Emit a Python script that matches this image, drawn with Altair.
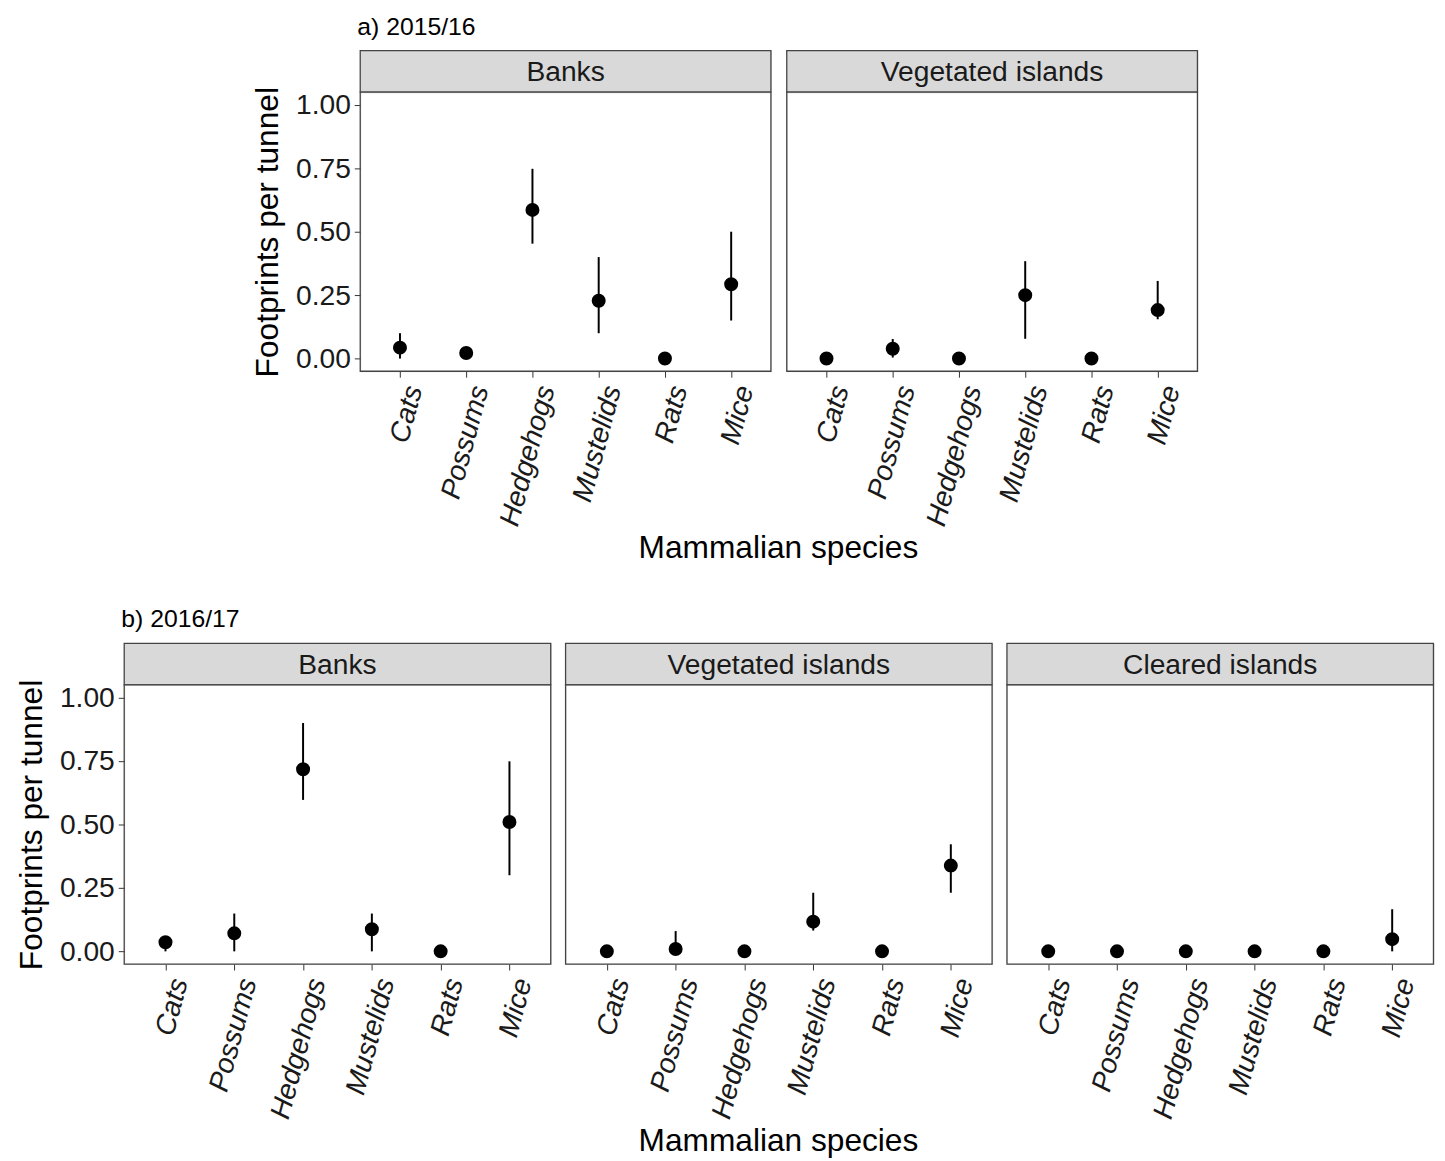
import altair as alt
import pandas as pd

SPECIES = ["Cats", "Possums", "Hedgehogs", "Mustelids", "Rats", "Mice"]

# a) 2015/16
A_BANKS_MEAN = [0.043, 0.022, 0.586, 0.228, 0.0, 0.293]
A_BANKS_LO = [0.0, 0.005, 0.453, 0.10, 0.0, 0.15]
A_BANKS_HI = [0.10, 0.04, 0.748, 0.40, 0.0, 0.50]

A_VEG_MEAN = [0.0, 0.039, 0.0, 0.25, 0.0, 0.191]
A_VEG_LO = [0.0, 0.004, 0.0, 0.078, 0.0, 0.155]
A_VEG_HI = [0.0, 0.077, 0.0, 0.384, 0.0, 0.306]

# b) 2016/17
B_BANKS_MEAN = [0.036, 0.071, 0.718, 0.087, 0.0, 0.51]
B_BANKS_LO = [0.0, 0.0, 0.597, 0.0, 0.0, 0.30]
B_BANKS_HI = [0.05, 0.149, 0.90, 0.149, 0.0, 0.749]

B_VEG_MEAN = [0.0, 0.009, 0.0, 0.117, 0.0, 0.338]
B_VEG_LO = [0.0, 0.0, 0.0, 0.082, 0.0, 0.231]
B_VEG_HI = [0.0, 0.08, 0.0, 0.231, 0.0, 0.422]

B_CLR_MEAN = [0.0, 0.0, 0.0, 0.0, 0.0, 0.048]
B_CLR_LO = [0.0, 0.0, 0.0, 0.0, 0.0, 0.0]
B_CLR_HI = [0.0, 0.0, 0.0, 0.0, 0.0, 0.166]

Y_TICKS = [0.0, 0.25, 0.5, 0.75, 1.0]

FONT = "Liberation Sans"
PLOT_H = 282
STRIP_H = 42
BORDER = "#444444"


def make_df(mean, lo, hi):
    return pd.DataFrame({"species": SPECIES, "mean": mean, "lo": lo, "hi": hi})


def panel(df, label, width, show_y):
    yscale = alt.Scale(domain=[-0.05, 1.05], nice=False, zero=False)
    if show_y:
        yaxis = alt.Axis(
            values=Y_TICKS, format=".2f", grid=False, domain=False,
            labelFont=FONT, labelFontSize=28.5, labelColor="#1a1a1a",
            tickColor="#333333", tickSize=6, labelPadding=4,
            title="Footprints per tunnel", titleFont=FONT, titleFontSize=32,
            titleFontWeight="normal", titleColor="#000000", titlePadding=11,
        )
    else:
        yaxis = None
    xenc = alt.X(
        "species:N", sort=SPECIES,
        scale=alt.Scale(type="point", padding=0.6),
        axis=alt.Axis(
            title=None, labelAngle=285, labelAlign="right", labelBaseline="top",
            labelFontStyle="italic", labelFont=FONT, labelFontSize=28.5,
            labelColor="#1a1a1a", tickColor="#333333", tickSize=6,
            labelPadding=5, domain=False, grid=False,
        ),
    )
    base = alt.Chart(df).encode(x=xenc)
    rules = base.mark_rule(color="black", strokeWidth=2).encode(
        y=alt.Y("lo:Q", scale=yscale, axis=yaxis), y2="hi:Q"
    )
    pts = base.mark_point(filled=True, color="black", opacity=1, size=200).encode(
        y=alt.Y("mean:Q", scale=yscale, axis=yaxis)
    )
    frame = alt.Chart(pd.DataFrame({"f": [0]})).mark_rect(
        fill="transparent", stroke=BORDER, strokeWidth=1.3
    ).encode(x=alt.value(0), x2=alt.value(width), y=alt.value(0), y2=alt.value(PLOT_H))
    plot = alt.layer(rules, pts, frame).properties(width=width, height=PLOT_H)

    sdf = pd.DataFrame({"t": [label]})
    sbase = alt.Chart(sdf)
    srect = sbase.mark_rect(fill="#D9D9D9", stroke=BORDER, strokeWidth=1.3).encode(
        x=alt.value(0), x2=alt.value(width), y=alt.value(0), y2=alt.value(STRIP_H)
    )
    stext = sbase.mark_text(font=FONT, fontSize=28.5, color="#1a1a1a", baseline="middle", align="center").encode(
        text="t:N", x=alt.value(width / 2), y=alt.value(STRIP_H / 2 + 1)
    )
    strip = alt.layer(srect, stext).properties(width=width, height=STRIP_H)
    return alt.vconcat(strip, plot, spacing=0, bounds="flush")


xtitle = dict(
    text="Mammalian species", orient="bottom", anchor="middle", font=FONT,
    fontSize=32, fontWeight="normal", color="#000000", offset=4,
)

row_a = alt.hconcat(
    panel(make_df(A_BANKS_MEAN, A_BANKS_LO, A_BANKS_HI), "Banks", 415, True),
    panel(make_df(A_VEG_MEAN, A_VEG_LO, A_VEG_HI), "Vegetated islands", 415, False),
    spacing=12,
    title=alt.TitleParams(**xtitle, dx=54),
)
row_b = alt.hconcat(
    panel(make_df(B_BANKS_MEAN, B_BANKS_LO, B_BANKS_HI), "Banks", 431, True),
    panel(make_df(B_VEG_MEAN, B_VEG_LO, B_VEG_HI), "Vegetated islands", 431, False),
    panel(make_df(B_CLR_MEAN, B_CLR_LO, B_CLR_HI), "Cleared islands", 431, False),
    spacing=11,
    title=alt.TitleParams(**xtitle, dx=54),
)

sec_title = dict(anchor="start", font=FONT, fontSize=25, fontWeight="normal", color="#000000", offset=10)

sec_a = alt.vconcat(row_a, title=alt.TitleParams(text="a) 2015/16", dx=107, **sec_title))
sec_b = alt.vconcat(row_b, title=alt.TitleParams(text="b) 2016/17", dx=107, **sec_title))

chart = alt.vconcat(sec_a, sec_b, spacing=43, center=True).properties(
    padding={"left": 7, "top": 0, "right": 2, "bottom": 2}
).configure_view(
    stroke=None, fill="white"
).configure(background="white")

chart.save("out.html", embed_options={"renderer": "svg", "actions": False})
